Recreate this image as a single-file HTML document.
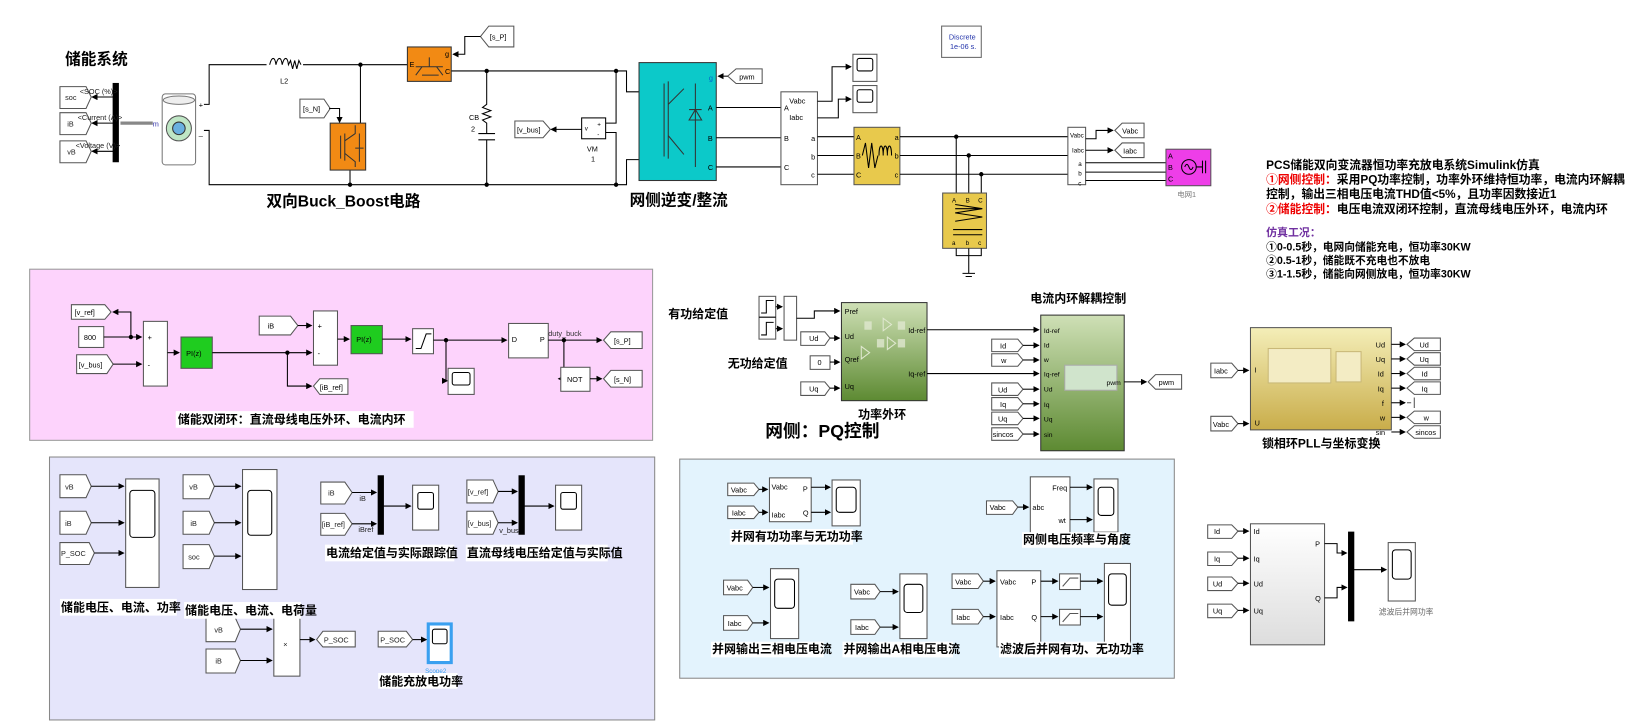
<!DOCTYPE html>
<html><head><meta charset="utf-8"><style>
html,body{margin:0;padding:0;background:#fff;}
svg{display:block;}
text{font-family:"Liberation Sans","Noto Sans CJK SC",sans-serif;}
text:not([fill]){fill:#000;}
.b{font-weight:bold;}
.cap{font-size:11.5px;font-weight:bold;fill:#000;}
</style></head><body>
<svg width="1637" height="721" viewBox="0 0 1568 691" xmlns="http://www.w3.org/2000/svg">
<defs>
<marker id="a" markerWidth="6" markerHeight="6" refX="5" refY="3" orient="auto" markerUnits="userSpaceOnUse"><path d="M0,0 L6,3 L0,6 z" fill="#000"/></marker>
<linearGradient id="gr" x1="0" y1="0" x2="0" y2="1"><stop offset="0" stop-color="#cfe0b6"/><stop offset="1" stop-color="#5d8a32"/></linearGradient>
<linearGradient id="gd" x1="0" y1="0" x2="0" y2="1"><stop offset="0" stop-color="#f4eeb8"/><stop offset="1" stop-color="#c9ad4a"/></linearGradient>
<linearGradient id="gy" x1="0" y1="0" x2="0" y2="1"><stop offset="0" stop-color="#fff"/><stop offset="1" stop-color="#ddd"/></linearGradient>
</defs>
<g fill="none" stroke="#000" stroke-width="1">

<!-- ===== TOP POWER CIRCUIT ===== -->
<text x="62" y="62" class="b" style="font-size:15px" fill="#000" stroke="none">储能系统</text>
<rect x="108" y="80" width="5" height="75" fill="#000"/>
<polygon points="57,83 82,83 87,93 82,104 57,104" fill="#fff" stroke="#555"/>
<polygon points="57,108 82,108 87,118 82,129 57,129" fill="#fff" stroke="#555"/>
<polygon points="57,135 82,135 87,145 82,156 57,156" fill="#fff" stroke="#555"/>
<path d="M108,93 H88" marker-end="url(#a)"/><path d="M108,118 H88" marker-end="url(#a)"/><path d="M108,145 H88" marker-end="url(#a)"/>
<g stroke="none" fill="#222" font-size="7"><text x="62" y="96" fill="#222">soc</text><text x="64" y="121" fill="#222">iB</text><text x="64" y="148" fill="#222">vB</text>
<text x="76" y="90" fill="#222">&lt;SOC (%)&gt;</text><text x="74" y="115" fill="#222">&lt;Current (A)&gt;</text><text x="72" y="142" fill="#222">&lt;Voltage (V)&gt;</text></g>
<path d="M146,118 H115" stroke="#888" stroke-width="3"/><text x="146" y="121" stroke="none" fill="#33a" font-size="7">m</text>
<rect x="155" y="90" width="32" height="68" rx="3" fill="#fff" stroke="#777"/>
<ellipse cx="171" cy="96" rx="15" ry="4" fill="#eee" stroke="#777"/>
<circle cx="171" cy="123" r="12" fill="#bfe6c5" stroke="#555"/>
<circle cx="171" cy="123" r="6" fill="#6ab0e0" stroke="#333"/>
<text x="190" y="103" font-size="7" stroke="none">+</text><text x="190" y="130" font-size="7" stroke="none">_</text>
<path d="M195,100 H200 V62 H255 M290,62 H390 M195,125 H200 V177 H600 V153 H612 M432,68 H600 V88 H612"/>
<path d="M258,62 c2,-8 5,-8 6,0 c2,-8 5,-8 6,0 c2,-8 5,-8 6,0 l2,-4 2,8 2,-8 2,8 2,-8 2,4" fill="none"/>
<text x="268" y="80" font-size="7" stroke="none">L2</text>
<circle cx="345" cy="62" r="1.6" fill="#000"/>
<path d="M345,62 V118 M335,163 V177"/><circle cx="335" cy="177" r="1.6" fill="#000"/>
<rect x="390" y="45" width="42" height="33" fill="#f28a14" stroke="#333"/>
<path d="M398,64 H424 M404,64 L398,72 M418,64 L424,72 M411,55 V64 M404,72 H420" stroke="#333"/>
<text x="392" y="64" font-size="7" stroke="none">E</text><text x="426" y="71" font-size="7" stroke="none">C</text><text x="426" y="54" font-size="7" stroke="none">g</text>
<polygon points="460,35 468,25 492,25 492,45 468,45" fill="#fff" stroke="#555"/><text x="469" y="38" font-size="7" stroke="none">[s_P]</text>
<path d="M460,35 H445 V52 H434" marker-end="url(#a)"/>
<rect x="316" y="118" width="34" height="45" fill="#f28a14" stroke="#333"/>
<path d="M326,130 V152 M330,128 V154 M330,135 L340,128 V120 M330,147 L340,155 V160 M344,128 V155 M340,142 h8" stroke="#333"/>
<polygon points="287,95 310,95 316,104 310,113 287,113" fill="#fff" stroke="#555"/><text x="290" y="107" font-size="7" stroke="none">[s_N]</text>
<path d="M315,104 H325 V117" marker-end="url(#a)"/>
<circle cx="466" cy="68" r="1.6" fill="#000"/><circle cx="466" cy="177" r="1.6" fill="#000"/>
<path d="M466,68 V100 l-4,3 8,3 -8,3 8,3 -8,3 4,3 V128 M458,128 H474 M458,134 H474 M466,134 V177"/>
<text x="449" y="115" font-size="7" stroke="none">CB</text><text x="451" y="126" font-size="7" stroke="none">2</text>
<rect x="557" y="113" width="23" height="20" fill="#fff"/><text x="560" y="125" font-size="6" stroke="none">v</text><text x="572" y="121" font-size="6" stroke="none">+</text><text x="572" y="131" font-size="6" stroke="none">-</text>
<polygon points="493,116 520,116 527,124 520,132 493,132" fill="#fff" stroke="#555"/><text x="495" y="127" font-size="7" stroke="none">[v_bus]</text>
<path d="M557,124 H528" marker-end="url(#a)"/>
<path d="M580,118 H590 V68 M580,127 H590 V177"/><circle cx="590" cy="68" r="1.6" fill="#000"/><circle cx="590" cy="177" r="1.6" fill="#000"/>
<text x="562" y="145" font-size="7" stroke="none">VM</text><text x="566" y="155" font-size="7" stroke="none">1</text>
<text x="255" y="198" class="b" style="font-size:15px" fill="#000" stroke="none">双向Buck_Boost电路</text>
<rect x="612" y="60" width="74" height="113" fill="#0cc9c9" stroke="#333"/>
<path d="M636,80 V150 M640,78 V152 M640,100 L655,85 M640,130 L655,148 M666,80 V160 M660,115 h12 l-6,-10 z M660,105 h12" stroke="#333"/>
<text x="679" y="77" font-size="7" stroke="none" fill="#06c">g</text>
<polygon points="697,73 705,66 730,66 730,80 705,80" fill="#fff" stroke="#555"/><text x="708" y="76" font-size="7" stroke="none">pwm</text>
<path d="M697,73 H688" marker-end="url(#a)"/>
<text x="678" y="106" font-size="7" stroke="none">A</text><text x="678" y="135" font-size="7" stroke="none">B</text><text x="678" y="163" font-size="7" stroke="none">C</text>
<text x="603" y="197" class="b" style="font-size:15px" fill="#000" stroke="none">网侧逆变/整流</text>
<path d="M686,103 H748 M686,132 H748 M686,160 H748"/>
<rect x="748" y="88" width="35" height="89" fill="#fff" stroke="#555"/>
<g stroke="none" font-size="7"><text x="756" y="99">Vabc</text><text x="756" y="115">Iabc</text><text x="751" y="106">A</text><text x="751" y="135">B</text><text x="751" y="163">C</text><text x="777" y="135">a</text><text x="777" y="153">b</text><text x="777" y="170">c</text></g>
<path d="M783,97 H797 V64 H815" marker-end="url(#a)"/><path d="M783,113 H803 V95 H815" marker-end="url(#a)"/>
<rect x="817" y="52" width="23" height="26" fill="#fff" stroke="#555"/><rect x="821" y="56" width="15" height="12" rx="2"/>
<rect x="817" y="82" width="23" height="26" fill="#fff" stroke="#555"/><rect x="821" y="86" width="15" height="12" rx="2"/>
<path d="M783,131 H818 M783,149 H818 M783,167 H818"/>
<rect x="818" y="122" width="44" height="55" fill="#e8c94c" stroke="#555"/>
<path d="M826,149 l3,-12 3,24 3,-24 3,24 3,-12 M842,149 c0,-12 4,-12 4,0 c0,-12 4,-12 4,0 c0,-12 4,-12 4,0"/>
<g stroke="none" font-size="7"><text x="820" y="134">A</text><text x="820" y="152">B</text><text x="820" y="170">C</text><text x="857" y="134">a</text><text x="857" y="152">b</text><text x="857" y="170">c</text></g>
<path d="M862,131 H1023 M862,149 H1023 M862,167 H1023"/>
<circle cx="916" cy="131" r="1.6" fill="#000"/><circle cx="928" cy="149" r="1.6" fill="#000"/><circle cx="940" cy="167" r="1.6" fill="#000"/>
<path d="M916,131 V185 M928,149 V185 M940,167 V185"/>
<rect x="903" y="185" width="42" height="53" fill="#e8c94c" stroke="#555"/>
<g stroke="none" font-size="6"><text x="912" y="194">A</text><text x="925" y="194">B</text><text x="937" y="194">C</text><text x="912" y="235">a</text><text x="925" y="235">b</text><text x="937" y="235">c</text></g>
<path d="M915,200 h26 M915,196 l26,4 -26,4 26,4 -26,4 M913,220 h28 M913,225 h28"/>
<path d="M916,238 V245 H940 V238 M928,238 V262 M922,262 H934 M925,265 H931"/>
<rect x="902" y="25" width="38" height="30" fill="#fff" stroke="#666"/>
<text x="909" y="38" font-size="7" stroke="none" fill="#2233aa">Discrete</text><text x="910" y="47" font-size="7" stroke="none" fill="#2233aa">1e-06 s.</text>
<rect x="1023" y="122" width="17" height="55" fill="#fff" stroke="#555"/>
<g stroke="none" font-size="6"><text x="1025" y="132">Vabc</text><text x="1027" y="146">Iabc</text><text x="1033" y="159">a</text><text x="1033" y="168">b</text><text x="1033" y="178">c</text></g>
<path d="M1040,133 H1050 V125 H1066" marker-end="url(#a)"/><path d="M1040,144 H1066" marker-end="url(#a)"/>
<polygon points="1068,125 1075,118 1096,118 1096,132 1075,132" fill="#fff" stroke="#555"/><text x="1075" y="128" font-size="7" stroke="none">Vabc</text>
<polygon points="1068,144 1075,137 1096,137 1096,151 1075,151" fill="#fff" stroke="#555"/><text x="1076" y="147" font-size="7" stroke="none">Iabc</text>
<path d="M1040,156 H1117 M1040,165 H1117 M1040,173 H1117"/>
<rect x="1117" y="143" width="43" height="35" fill="#ee3ee8" stroke="#555"/>
<circle cx="1139" cy="160" r="7"/><path d="M1135,160 q2,-5 4,0 q2,5 4,0 M1146,160 H1152 M1152,154 V166 M1155,154 V166"/>
<g stroke="none" font-size="7"><text x="1119" y="152">A</text><text x="1119" y="163">B</text><text x="1119" y="174">C</text></g>
<text x="1128" y="189" font-size="7" stroke="none" fill="#777">电网1</text>

<g stroke="none" font-weight="bold" font-size="11.3">
<text x="1213" y="162" fill="#000">PCS储能双向变流器恒功率充放电系统Simulink仿真</text>
<text x="1213" y="176" fill="#000"><tspan fill="#e00">①网侧控制：</tspan><tspan fill="#000">采用PQ功率控制，功率外环维持恒功率，电流内环解耦</tspan></text>
<text x="1213" y="190" fill="#000">控制，输出三相电压电流THD值&lt;5%，且功率因数接近1</text>
<text x="1213" y="204" fill="#000"><tspan fill="#e00">②储能控制：</tspan><tspan fill="#000">电压电流双闭环控制，直流母线电压外环，电流内环</tspan></text>
<text x="1213" y="226" fill="#7030a0" font-size="10.5">仿真工况：</text>
<text x="1213" y="240" fill="#000" font-size="10.3">①0-0.5秒，电网向储能充电，恒功率30KW</text>
<text x="1213" y="253" fill="#000" font-size="10.3">②0.5-1秒，储能既不充电也不放电</text>
<text x="1213" y="266" fill="#000" font-size="10.3">③1-1.5秒，储能向网侧放电，恒功率30KW</text>
</g>

<!-- ===== PINK PANEL ===== -->
<rect x="28" y="258" width="597" height="164" fill="#fdd3fc" stroke="#999"/>
<polygon points="68,292 100,292 106,299 100,306 68,306" fill="#fff" stroke="#555"/><text x="71" y="302" font-size="7" stroke="none">[v_ref]</text>
<rect x="75" y="313" width="24" height="20" fill="#fff" stroke="#555"/><text x="80" y="326" font-size="7" stroke="none">800</text>
<polygon points="73,340 102,340 108,349 102,358 73,358" fill="#fff" stroke="#555"/><text x="75" y="352" font-size="7" stroke="none">[v_bus]</text>
<path d="M99,323 H135" marker-end="url(#a)"/><circle cx="125" cy="323" r="1.6" fill="#000"/><path d="M125,323 V299 H108" marker-end="url(#a)"/>
<path d="M108,349 H135" marker-end="url(#a)"/>
<rect x="137" y="308" width="23" height="62" fill="#fff" stroke="#555"/><text x="141" y="326" font-size="7" stroke="none">+</text><text x="141" y="352" font-size="7" stroke="none">-</text>
<path d="M160,338 H171" marker-end="url(#a)"/>
<rect x="173" y="323" width="30" height="30" fill="#1fcc1f" stroke="#555"/><text x="178" y="341" font-size="7" stroke="none">PI(z)</text>
<path d="M203,338 H298" marker-end="url(#a)"/><circle cx="275" cy="338" r="1.6" fill="#000"/><path d="M275,338 V370 H298" marker-end="url(#a)"/>
<polygon points="300,370 306,363 333,363 333,378 306,378" fill="#fff" stroke="#555"/><text x="306" y="374" font-size="7" stroke="none">[iB_ref]</text>
<polygon points="248,303 278,303 285,312 278,321 248,321" fill="#fff" stroke="#555"/><text x="256" y="315" font-size="7" stroke="none">iB</text>
<path d="M285,312 H298" marker-end="url(#a)"/>
<rect x="300" y="298" width="23" height="52" fill="#fff" stroke="#555"/><text x="304" y="315" font-size="7" stroke="none">+</text><text x="304" y="341" font-size="7" stroke="none">-</text>
<path d="M323,325 H334" marker-end="url(#a)"/>
<rect x="336" y="312" width="30" height="27" fill="#1fcc1f" stroke="#555"/><text x="341" y="328" font-size="7" stroke="none">PI(z)</text>
<path d="M366,325 H393" marker-end="url(#a)"/>
<rect x="395" y="315" width="20" height="24" fill="#fff" stroke="#555"/><path d="M398,334 h5 l5,-14 h5"/>
<path d="M415,326 H485" marker-end="url(#a)"/><circle cx="427" cy="326" r="1.6" fill="#000"/><path d="M427,326 V365 H428" marker-end="url(#a)"/>
<rect x="429" y="353" width="25" height="25" fill="#fff" stroke="#555"/><rect x="433" y="357" width="17" height="12" rx="2"/>
<rect x="487" y="310" width="38" height="33" fill="#fff" stroke="#555"/><text x="490" y="328" font-size="7" stroke="none">D</text><text x="517" y="328" font-size="7" stroke="none">P</text>
<text x="525" y="322" font-size="7" stroke="none" fill="#333">duty_buck</text>
<path d="M525,326 H576" marker-end="url(#a)"/><circle cx="540" cy="326" r="1.6" fill="#000"/><path d="M540,326 V363 H535" marker-end="url(#a)"/>
<rect x="537" y="352" width="28" height="23" fill="#fff" stroke="#555"/><text x="543" y="366" font-size="7" stroke="none">NOT</text>
<path d="M565,363 H576" marker-end="url(#a)"/>
<polygon points="578,326 585,318 615,318 615,334 585,334" fill="#fff" stroke="#555"/><text x="588" y="329" font-size="7" stroke="none">[s_P]</text>
<polygon points="578,363 585,355 615,355 615,371 585,371" fill="#fff" stroke="#555"/><text x="588" y="366" font-size="7" stroke="none">[s_N]</text>
<rect x="168" y="394" width="228" height="16" fill="#fff" stroke="none"/>
<text x="170" y="406" class="cap" stroke="none">储能双闭环：直流母线电压外环、电流内环</text>

<!-- ===== LAVENDER PANEL ===== -->
<rect x="47" y="438" width="580" height="252" fill="#e5e5fb" stroke="#888"/>
<g fill="#fff" stroke="#555">
<polygon points="57,455 82,455 87,466 82,477 57,477"/><polygon points="57,490 82,490 87,501 82,512 57,512"/><polygon points="57,520 85,520 90,530 85,541 57,541"/>
<rect x="120" y="459" width="32" height="104"/>
<polygon points="175,455 200,455 205,466 200,478 175,478"/><polygon points="175,490 200,490 205,501 200,512 175,512"/><polygon points="175,522 200,522 205,533 200,545 175,545"/>
<rect x="232" y="450" width="33" height="115"/>
<polygon points="307,462 330,462 337,472 330,483 307,483"/><polygon points="307,492 330,492 337,502 330,513 307,513"/>
<rect x="395" y="465" width="25" height="43"/>
<polygon points="447,460 472,460 477,471 472,482 447,482"/><polygon points="447,490 472,490 477,501 472,512 447,512"/>
<rect x="532" y="465" width="25" height="43"/>
<polygon points="197,592 225,592 230,603 225,615 197,615"/><polygon points="197,622 225,622 230,633 225,645 197,645"/>
<rect x="262" y="586" width="25" height="62"/>
<polygon points="303,613 309,605 340,605 340,620 309,620"/>
<polygon points="362,605 389,605 395,613 389,620 362,620"/>
</g>
<rect x="124" y="470" width="24" height="45" rx="3"/><rect x="237" y="470" width="23" height="43" rx="3"/>
<rect x="400" y="472" width="15" height="16" rx="2"/><rect x="537" y="472" width="15" height="16" rx="2"/>
<rect x="362" y="456" width="5" height="56" fill="#000"/><rect x="497" y="456" width="5" height="56" fill="#000"/>
<rect x="410" y="598" width="22" height="37" fill="#fff" stroke="#3aa0f0" stroke-width="3"/><rect x="414" y="603" width="14" height="14" rx="2"/>
<path d="M87,466 H118" marker-end="url(#a)"/><path d="M87,501 H118" marker-end="url(#a)"/><path d="M90,530 H118" marker-end="url(#a)"/>
<path d="M205,466 H230" marker-end="url(#a)"/><path d="M205,501 H230" marker-end="url(#a)"/><path d="M205,533 H230" marker-end="url(#a)"/>
<path d="M337,472 H360" marker-end="url(#a)"/><path d="M337,502 H360" marker-end="url(#a)"/><path d="M367,485 H393" marker-end="url(#a)"/>
<path d="M477,471 H495" marker-end="url(#a)"/><path d="M477,501 H495" marker-end="url(#a)"/><path d="M502,485 H530" marker-end="url(#a)"/>
<path d="M230,603 H260" marker-end="url(#a)"/><path d="M230,633 H260" marker-end="url(#a)"/><path d="M287,613 H301" marker-end="url(#a)"/><path d="M395,613 H408" marker-end="url(#a)"/>
<g stroke="none" fill="#222" font-size="7">
<text x="62" y="469" fill="#222">vB</text><text x="62" y="504" fill="#222">iB</text><text x="58" y="533" fill="#222">P_SOC</text>
<text x="181" y="469" fill="#222">vB</text><text x="182" y="504" fill="#222">iB</text><text x="180" y="536" fill="#222">soc</text>
<text x="314" y="475" fill="#222">iB</text><text x="308" y="505" fill="#222">[iB_ref]</text><text x="344" y="480" fill="#222">iB</text><text x="343" y="510" fill="#222">iBref</text>
<text x="448" y="474" fill="#222">[v_ref]</text><text x="448" y="504" fill="#222">[v_bus]</text><text x="478" y="511" fill="#222">v_bus</text>
<text x="205" y="606" fill="#222">vB</text><text x="206" y="636" fill="#222">iB</text><text x="271" y="620" fill="#222">×</text>
<text x="310" y="616" fill="#222">P_SOC</text><text x="364" y="616" fill="#222">P_SOC</text><text x="407" y="645" fill="#3aa0f0" font-size="6">Scope2</text>
</g>
<g stroke="none">
<rect x="57" y="574" width="112" height="16" fill="#fff"/><text x="58" y="586" class="cap">储能电压、电流、功率</text>
<rect x="176" y="577" width="112" height="16" fill="#fff"/><text x="177" y="589" class="cap">储能电压、电流、电荷量</text>
<rect x="311" y="522" width="124" height="16" fill="#fff"/><text x="312" y="534" class="cap">电流给定值与实际跟踪值</text>
<rect x="446" y="522" width="136" height="16" fill="#fff"/><text x="447" y="534" class="cap">直流母线电压给定值与实际值</text>
<rect x="362" y="645" width="76" height="15" fill="#fff"/><text x="363" y="657" class="cap">储能充放电功率</text>
</g>

<!-- ===== MIDDLE PQ CONTROL ===== -->
<text x="640" y="305" class="cap" stroke="none" font-size="10">有功给定值</text>
<rect x="727" y="284" width="16" height="41" fill="#fff" stroke="#555"/><path d="M729,300 h5 v-12 h7 M729,321 h5 v-12 h7"/><path d="M727,304 H743"/>
<path d="M743,294 H749" marker-end="url(#a)"/><path d="M743,315 H749" marker-end="url(#a)"/>
<rect x="751" y="284" width="12" height="42" fill="#fff" stroke="#555"/>
<path d="M763,305 H780 V298 H804" marker-end="url(#a)"/>
<rect x="806" y="290" width="82" height="94" fill="url(#gr)" stroke="#333"/>
<g fill="#e0e8d0" stroke="none" opacity=".8"><rect x="828" y="308" width="7" height="8"/><rect x="860" y="308" width="7" height="8"/><rect x="840" y="325" width="7" height="8"/><rect x="860" y="325" width="7" height="8"/></g>
<path d="M846,305 l8,6 -8,6z M850,323 l8,6 -8,6z M825,332 l8,6 -8,6z" stroke="#e0e8d0"/>
<g stroke="none" font-size="7"><text x="809" y="301">Pref</text><text x="809" y="325">Ud</text><text x="809" y="347">Qref</text><text x="809" y="373">Uq</text><text x="870" y="319">Id-ref</text><text x="870" y="361">Iq-ref</text></g>
<polygon points="767,318 790,318 795,324 790,331 767,331" fill="#fff" stroke="#555"/><text x="775" y="327" font-size="7" stroke="none">Ud</text>
<path d="M795,324 H804" marker-end="url(#a)"/>
<text x="697" y="352" class="cap" stroke="none" font-size="10">无功给定值</text>
<rect x="776" y="341" width="19" height="13" fill="#fff" stroke="#555"/><text x="783" y="350" font-size="7" stroke="none">0</text>
<path d="M795,347 H804" marker-end="url(#a)"/>
<polygon points="767,366 790,366 795,372 790,379 767,379" fill="#fff" stroke="#555"/><text x="775" y="375" font-size="7" stroke="none">Uq</text>
<path d="M795,372 H804" marker-end="url(#a)"/>
<text x="822" y="401" class="cap" stroke="none" font-size="12">功率外环</text>
<text x="733" y="419" class="b" stroke="none" font-size="17" fill="#000">网侧：PQ控制</text>
<path d="M888,316 H995" marker-end="url(#a)"/><path d="M888,358 H995" marker-end="url(#a)"/>
<text x="987" y="290" class="cap" stroke="none" font-size="11">电流内环解耦控制</text>
<rect x="997" y="302" width="80" height="130" fill="url(#gr)" stroke="#333"/>
<rect x="1020" y="350" width="50" height="24" fill="#d0e4cc" stroke="#aaa"/>
<g stroke="none" font-size="6.5"><text x="1000" y="319">Id-ref</text><text x="1000" y="333">Id</text><text x="1000" y="347">w</text><text x="1000" y="361">Iq-ref</text><text x="1000" y="375">Ud</text><text x="1000" y="390">Iq</text><text x="1000" y="404">Uq</text><text x="1000" y="419">sin</text><text x="1060" y="369">pwm</text></g>
<g fill="#fff" stroke="#555">
<polygon points="950,325 975,325 980,331 975,337 950,337"/><polygon points="950,339 975,339 980,345 975,351 950,351"/>
<polygon points="950,367 975,367 980,373 975,379 950,379"/><polygon points="950,381 975,381 980,387 975,393 950,393"/>
<polygon points="950,395 975,395 980,401 975,407 950,407"/><polygon points="950,410 975,410 980,416 975,422 950,422"/>
</g>
<g stroke="none" font-size="7"><text x="958" y="334">Id</text><text x="959" y="348">w</text><text x="956" y="376">Ud</text><text x="958" y="390">Iq</text><text x="956" y="404">Uq</text><text x="951" y="419">sincos</text></g>
<path d="M980,331 H995" marker-end="url(#a)"/><path d="M980,345 H995" marker-end="url(#a)"/><path d="M980,373 H995" marker-end="url(#a)"/><path d="M980,387 H995" marker-end="url(#a)"/><path d="M980,401 H995" marker-end="url(#a)"/><path d="M980,416 H995" marker-end="url(#a)"/>
<path d="M1077,366 H1098" marker-end="url(#a)"/>
<polygon points="1100,366 1107,359 1132,359 1132,373 1107,373" fill="#fff" stroke="#555"/><text x="1110" y="369" font-size="7" stroke="none">pwm</text>

<!-- PLL -->
<rect x="1198" y="314" width="135" height="98" fill="url(#gd)" stroke="#555"/>
<rect x="1215" y="334" width="60" height="33" fill="#f3ecc4" stroke="#c9b878"/><rect x="1280" y="337" width="24" height="29" fill="#f3ecc4" stroke="#c9b878"/>
<g stroke="none" font-size="7"><text x="1202" y="357">I</text><text x="1202" y="408">U</text>
<text x="1318" y="333">Ud</text><text x="1318" y="347">Uq</text><text x="1320" y="361">Id</text><text x="1320" y="375">Iq</text><text x="1324" y="389">f</text><text x="1322" y="403">w</text><text x="1318" y="417">sin</text></g>
<polygon points="1160,348 1180,348 1186,355 1180,362 1160,362" fill="#fff" stroke="#555"/><text x="1163" y="358" font-size="7" stroke="none">Iabc</text>
<polygon points="1160,399 1180,399 1186,406 1180,413 1160,413" fill="#fff" stroke="#555"/><text x="1162" y="409" font-size="7" stroke="none">Vabc</text>
<path d="M1186,355 H1196" marker-end="url(#a)"/><path d="M1186,406 H1196" marker-end="url(#a)"/>
<path d="M1333,330 H1346" marker-end="url(#a)"/><path d="M1333,344 H1346" marker-end="url(#a)"/><path d="M1333,358 H1346" marker-end="url(#a)"/><path d="M1333,372 H1346" marker-end="url(#a)"/><path d="M1333,386 H1346" marker-end="url(#a)"/><path d="M1333,400 H1346" marker-end="url(#a)"/><path d="M1333,414 H1346" marker-end="url(#a)"/>
<g fill="#fff" stroke="#555">
<polygon points="1348,330 1355,324 1380,324 1380,336 1355,336"/><polygon points="1348,344 1355,338 1380,338 1380,350 1355,350"/><polygon points="1348,358 1355,352 1380,352 1380,364 1355,364"/><polygon points="1348,372 1355,366 1380,366 1380,378 1355,378"/>
<path d="M1348,386 H1352 M1355,381 V391"/>
<polygon points="1348,400 1355,394 1380,394 1380,406 1355,406"/><polygon points="1348,414 1355,408 1380,408 1380,420 1355,420"/>
</g>
<g stroke="none" font-size="7"><text x="1360" y="333">Ud</text><text x="1360" y="347">Uq</text><text x="1362" y="361">Id</text><text x="1362" y="375">Iq</text><text x="1364" y="403">w</text><text x="1356" y="417">sincos</text></g>
<text x="1209" y="429" class="cap" stroke="none" font-size="8.5">锁相环PLL与坐标变换</text>

<rect x="1198" y="502" width="71" height="116" fill="url(#gy)" stroke="#555"/>
<g stroke="none" font-size="7"><text x="1201" y="512">Id</text><text x="1201" y="538">Iq</text><text x="1201" y="562">Ud</text><text x="1201" y="588">Uq</text><text x="1260" y="524">P</text><text x="1260" y="576">Q</text></g>
<g fill="#fff" stroke="#555"><polygon points="1157,503 1180,503 1186,509 1180,516 1157,516"/><polygon points="1157,529 1180,529 1186,535 1180,542 1157,542"/><polygon points="1157,553 1180,553 1186,559 1180,566 1157,566"/><polygon points="1157,579 1180,579 1186,585 1180,592 1157,592"/></g>
<g stroke="none" font-size="7"><text x="1163" y="512">Id</text><text x="1163" y="538">Iq</text><text x="1162" y="562">Ud</text><text x="1162" y="588">Uq</text></g>
<path d="M1186,509 H1196" marker-end="url(#a)"/><path d="M1186,535 H1196" marker-end="url(#a)"/><path d="M1186,559 H1196" marker-end="url(#a)"/><path d="M1186,585 H1196" marker-end="url(#a)"/>
<path d="M1269,521 H1281 V530 H1290" marker-end="url(#a)"/><path d="M1269,573 H1281 V563 H1290" marker-end="url(#a)"/>
<rect x="1292" y="510" width="5" height="85" fill="#000"/>
<path d="M1297,546 H1328" marker-end="url(#a)"/>
<rect x="1330" y="520" width="26" height="56" fill="#fff" stroke="#555"/><rect x="1334" y="527" width="18" height="28" rx="3"/>
<text x="1321" y="589" font-size="7.5" stroke="none" fill="#666">滤波后并网功率</text>

<!-- ===== LIGHT BLUE PANEL ===== -->
<rect x="651" y="440" width="474" height="210" fill="#e3f3fd" stroke="#888"/>
<g fill="#fff" stroke="#555">
<polygon points="697,463 722,463 727,469 722,475 697,475"/><polygon points="697,485 722,485 727,491 722,497 697,497"/>
<rect x="737" y="458" width="40" height="42"/><rect x="797" y="460" width="27" height="44"/>
<polygon points="945,480 970,480 975,486 970,493 945,493"/><rect x="987" y="457" width="38" height="56"/><rect x="1048" y="459" width="23" height="51"/>
<polygon points="693,556 716,556 721,563 716,570 693,570"/><polygon points="693,590 716,590 721,597 716,604 693,604"/><rect x="738" y="545" width="27" height="67"/>
<polygon points="815,560 838,560 843,567 838,574 815,574"/><polygon points="815,594 838,594 843,601 838,608 815,608"/><rect x="862" y="550" width="26" height="62"/>
<polygon points="912,550 937,550 942,557 937,564 912,564"/><polygon points="912,584 937,584 942,591 937,598 912,598"/>
<rect x="955" y="547" width="42" height="73"/><rect x="1015" y="550" width="20" height="15"/><rect x="1015" y="584" width="20" height="15"/><rect x="1058" y="540" width="25" height="76"/>
</g>
<rect x="801" y="467" width="19" height="24" rx="3"/><rect x="1052" y="467" width="15" height="27" rx="3"/><rect x="742" y="555" width="19" height="28" rx="3"/><rect x="866" y="560" width="18" height="27" rx="3"/><rect x="1062" y="550" width="17" height="30" rx="3"/>
<path d="M1018,562 l7,-8 h8 M1018,596 l7,-8 h8" stroke="#555"/>
<g stroke="none" font-size="7">
<text x="700" y="472">Vabc</text><text x="701" y="494">Iabc</text><text x="739" y="469">Vabc</text><text x="739" y="496">Iabc</text><text x="769" y="471">P</text><text x="769" y="494">Q</text>
<text x="948" y="489">Vabc</text><text x="989" y="489">abc</text><text x="1008" y="470">Freq</text><text x="1014" y="501">wt</text>
<text x="696" y="566">Vabc</text><text x="697" y="600">Iabc</text><text x="818" y="570">Vabc</text><text x="819" y="604">Iabc</text>
<text x="915" y="560">Vabc</text><text x="916" y="594">Iabc</text><text x="958" y="560">Vabc</text><text x="958" y="594">Iabc</text><text x="988" y="560">P</text><text x="988" y="594">Q</text>
</g>
<path d="M727,469 H735" marker-end="url(#a)"/><path d="M727,491 H735" marker-end="url(#a)"/><path d="M777,467 H795" marker-end="url(#a)"/><path d="M777,491 H795" marker-end="url(#a)"/>
<path d="M975,486 H985" marker-end="url(#a)"/><path d="M1025,467 H1046" marker-end="url(#a)"/><path d="M1025,498 H1046" marker-end="url(#a)"/>
<path d="M721,563 H736" marker-end="url(#a)"/><path d="M721,597 H736" marker-end="url(#a)"/>
<path d="M843,567 H860" marker-end="url(#a)"/><path d="M843,601 H860" marker-end="url(#a)"/>
<path d="M942,557 H953" marker-end="url(#a)"/><path d="M942,591 H953" marker-end="url(#a)"/><path d="M997,557 H1013" marker-end="url(#a)"/><path d="M997,591 H1013" marker-end="url(#a)"/><path d="M1035,557 H1056" marker-end="url(#a)"/><path d="M1035,591 H1056" marker-end="url(#a)"/>
<g stroke="none">
<rect x="699" y="507" width="118" height="15" fill="#fff"/><text x="700" y="518" class="cap" font-size="10.5">并网有功功率与无功功率</text>
<rect x="979" y="510" width="96" height="15" fill="#fff"/><text x="980" y="521" class="cap" font-size="10.5">网侧电压频率与角度</text>
<rect x="681" y="615" width="108" height="15" fill="#fff"/><text x="682" y="626" class="cap" font-size="10.5">并网输出三相电压电流</text>
<rect x="807" y="615" width="106" height="15" fill="#fff"/><text x="808" y="626" class="cap" font-size="10.5">并网输出A相电压电流</text>
<rect x="957" y="615" width="126" height="15" fill="#fff"/><text x="958" y="626" class="cap" font-size="9">滤波后并网有功、无功功率</text>
</g>
</g>
</svg>
</body></html>
